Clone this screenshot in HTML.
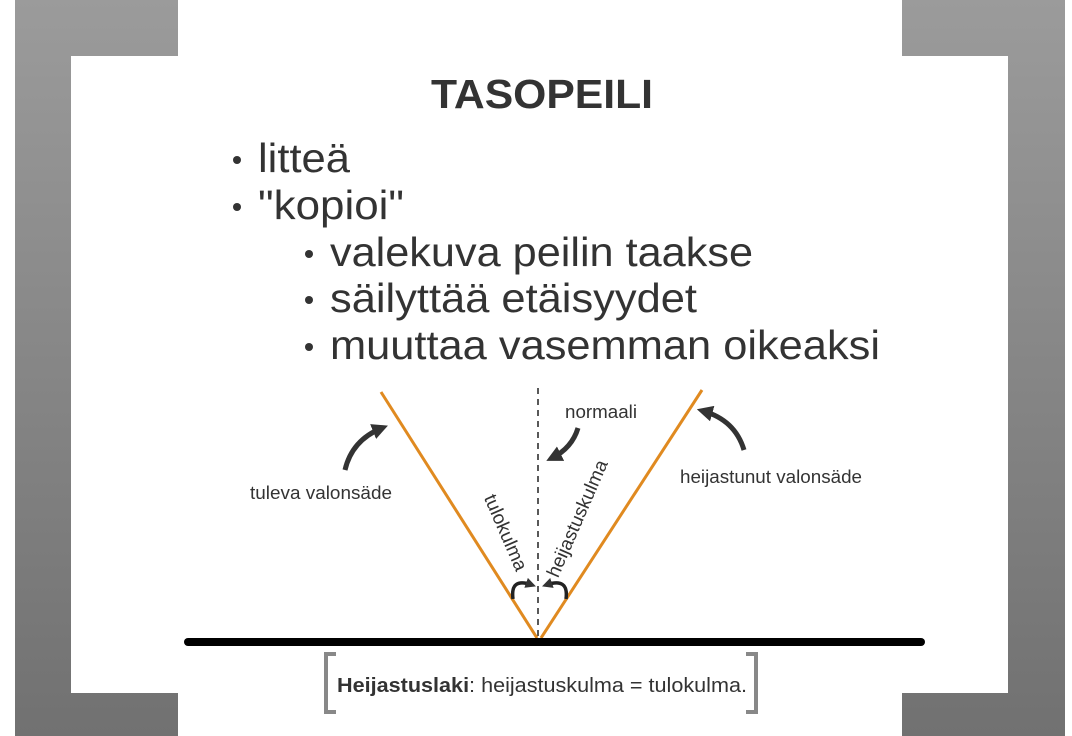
<!DOCTYPE html>
<html><head><meta charset="utf-8"><style>
html,body{margin:0;padding:0;background:#fff}
svg{display:block}
text{font-family:"Liberation Sans",sans-serif}
</style></head><body>
<svg width="1072" height="736" viewBox="0 0 1072 736" xmlns="http://www.w3.org/2000/svg">
<defs>
<linearGradient id="g" x1="0" y1="0" x2="0" y2="1">
<stop offset="0" stop-color="#9b9b9b"/><stop offset="1" stop-color="#717171"/>
</linearGradient>
<marker id="ah" viewBox="0 0 10 10" refX="6" refY="5" markerWidth="3.2" markerHeight="3.2" orient="auto">
<path d="M0,0 L10,5 L0,10 z" fill="#333"/>
</marker>
<marker id="ahs" viewBox="0 0 10 10" refX="6" refY="5" markerWidth="3" markerHeight="3" orient="auto">
<path d="M0,0 L10,5 L0,10 z" fill="#333"/>
</marker>
</defs>
<rect width="1072" height="736" fill="#fff"/>
<path d="M15,0 H178 V56 H71 V693 H178 V736 H15 Z" fill="url(#g)"/>
<path d="M1065,0 H902 V56 H1008 V693 H902 V736 H1065 Z" fill="url(#g)"/>

<text x="542" y="108" font-size="41" font-weight="bold" fill="#333" text-anchor="middle" textLength="222" lengthAdjust="spacingAndGlyphs">TASOPEILI</text>
<g fill="#333" font-size="41">
<circle cx="237" cy="160" r="4"/><text x="258" y="172" textLength="92" lengthAdjust="spacingAndGlyphs">litteä</text>
<circle cx="237" cy="207" r="4"/><text x="258" y="219" textLength="146" lengthAdjust="spacingAndGlyphs">"kopioi"</text>
<circle cx="309" cy="254" r="4"/><text x="330" y="266" textLength="423" lengthAdjust="spacingAndGlyphs">valekuva peilin taakse</text>
<circle cx="309" cy="300" r="4"/><text x="330" y="312" textLength="367" lengthAdjust="spacingAndGlyphs">säilyttää etäisyydet</text>
<circle cx="309" cy="347" r="4"/><text x="330" y="359" textLength="550" lengthAdjust="spacingAndGlyphs">muuttaa vasemman oikeaksi</text>
</g>

<line x1="538" y1="388" x2="538" y2="640" stroke="#222" stroke-width="1.5" stroke-dasharray="6,5"/>
<line x1="381" y1="392" x2="537" y2="638" stroke="#e08a20" stroke-width="3"/>
<line x1="702" y1="390" x2="541" y2="638" stroke="#e08a20" stroke-width="3"/>
<line x1="188" y1="642" x2="921" y2="642" stroke="#000" stroke-width="8" stroke-linecap="round"/>

<path d="M345,470 Q352,440 382,428" fill="none" stroke="#333" stroke-width="5" marker-end="url(#ah)"/>
<path d="M578,428 Q572,448 552,458" fill="none" stroke="#333" stroke-width="5" marker-end="url(#ah)"/>
<path d="M744,450 Q735,420 703,411" fill="none" stroke="#333" stroke-width="5" marker-end="url(#ah)"/>
<path d="M513,599 Q510,577 532,585" fill="none" stroke="#222" stroke-width="3.5" marker-end="url(#ahs)"/>
<path d="M566,599 Q569,577 546,585" fill="none" stroke="#222" stroke-width="3.5" marker-end="url(#ahs)"/>

<g fill="#333" font-size="18">
<text x="250" y="499" textLength="142" lengthAdjust="spacingAndGlyphs">tuleva valonsäde</text>
<text x="565" y="418" textLength="72" lengthAdjust="spacingAndGlyphs">normaali</text>
<text x="680" y="483" textLength="182" lengthAdjust="spacingAndGlyphs">heijastunut valonsäde</text>
<text x="0" y="0" transform="translate(500,535) rotate(66.5)" text-anchor="middle" font-size="19">tulokulma</text>
<text x="0" y="0" transform="translate(583,521) rotate(-66.5)" text-anchor="middle" font-size="19">heijastuskulma</text>
</g>

<path d="M336,654 H326 V712 H336" fill="none" stroke="#888" stroke-width="4"/>
<path d="M746,654 H756 V712 H746" fill="none" stroke="#888" stroke-width="4"/>
<text x="337" y="692" font-size="20" fill="#333" textLength="410" lengthAdjust="spacingAndGlyphs"><tspan font-weight="bold">Heijastuslaki</tspan>: heijastuskulma = tulokulma.</text>
</svg>
</body></html>
